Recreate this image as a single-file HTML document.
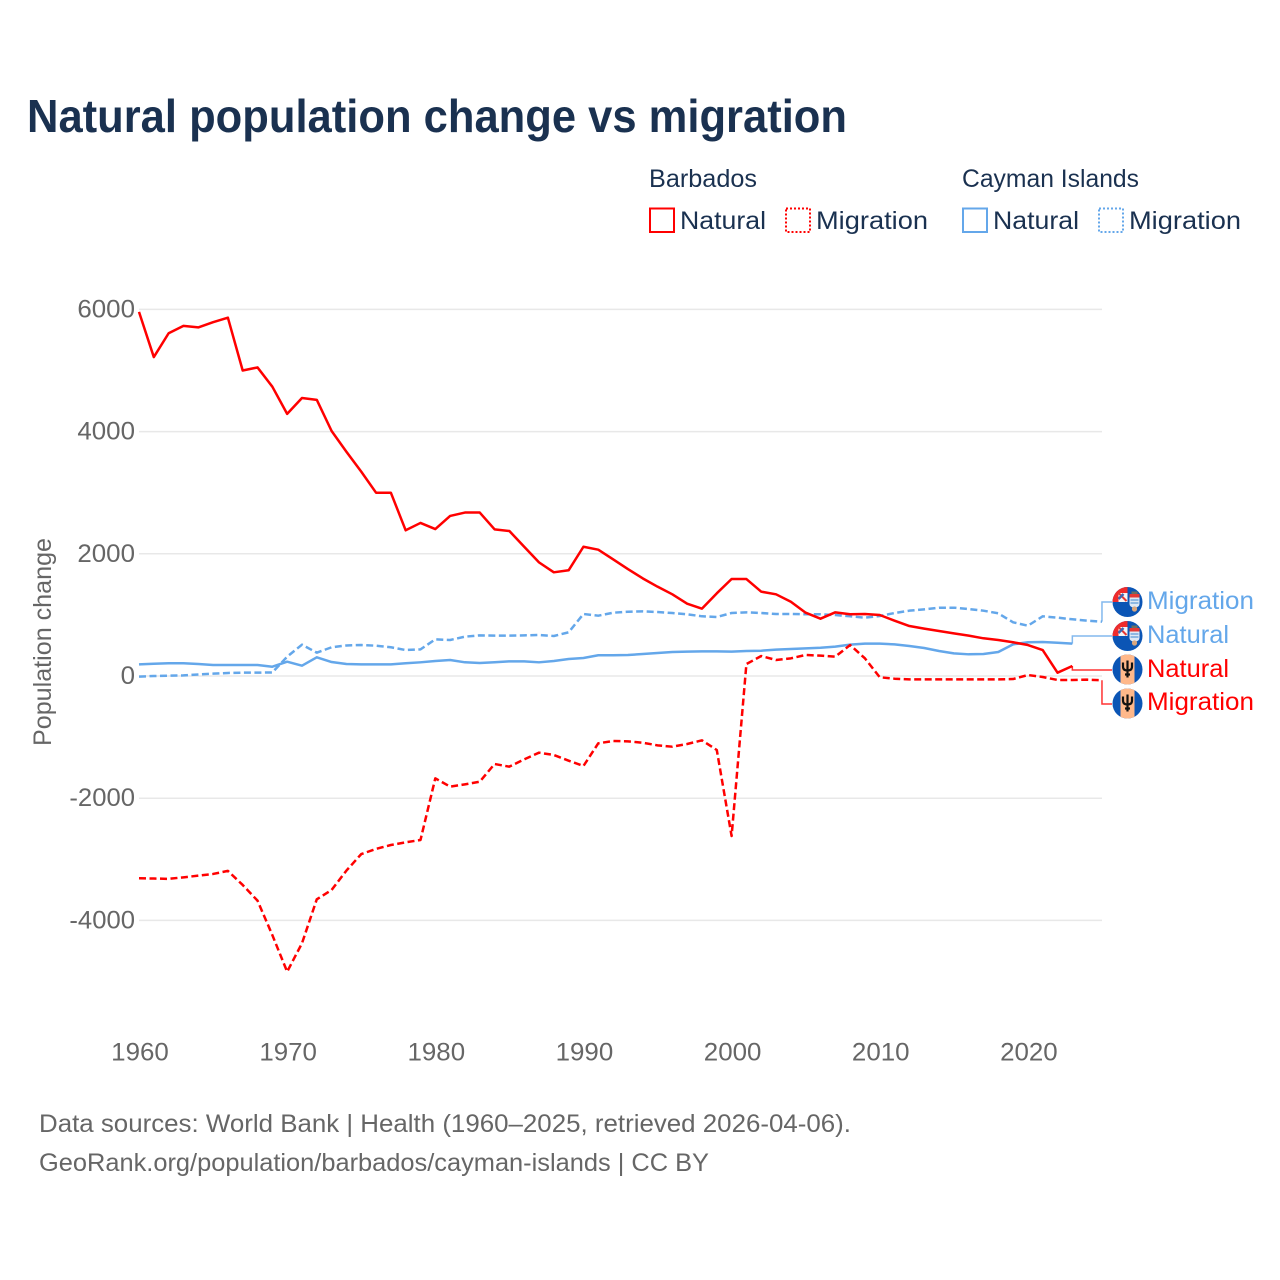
<!DOCTYPE html>
<html lang="en">
<head>
<meta charset="utf-8">
<title>Natural population change vs migration</title>
<style>
html,body{margin:0;padding:0;background:#fff;width:1280px;height:1280px;overflow:hidden}
svg{display:block}
text{font-family:"Liberation Sans",sans-serif}
</style>
</head>
<body>
<svg id="chart" xmlns="http://www.w3.org/2000/svg" width="1280" height="1280" viewBox="0 0 1280 1280">
  <defs>
    <clipPath id="flag-clip"><circle cx="0" cy="0" r="15"/></clipPath>
    <g id="flag-cayman" clip-path="url(#flag-clip)">
      <rect x="-15" y="-15" width="30" height="30" fill="#0b55b5"/>
      <rect x="-15" y="-15" width="15" height="15" fill="#ef2b2b"/>
      <rect x="-9" y="-9" width="9" height="9" fill="#f6f6f6"/>
      <path d="M-9,-9 L-1,-1" stroke="#e53935" stroke-width="2"/>
      <path d="M-9,-3 L-4,-8" stroke="#3f66b0" stroke-width="2.5"/>
      <path d="M2,-5 h10 v7 q0,3 -5,4 q-5,-1 -5,-4 z" fill="#dfe9f5"/>
      <rect x="2" y="-8" width="10" height="3.5" fill="#e53935"/>
      <path d="M3,-2 h8 M3,1 h8" stroke="#5e9ad8" stroke-width="1.3"/>
      <rect x="4" y="-10.500" width="6" height="2.500" fill="#6b6f60"/>
      <circle cx="7" cy="7" r="2.600" fill="#d9a77f"/>
    </g>
    <g id="flag-barbados" clip-path="url(#flag-clip)">
      <rect x="-15" y="-15" width="30" height="30" fill="#0b55b5"/>
      <rect x="-7" y="-15" width="14" height="30" fill="#ffb88a"/>
      <path d="M-4.500,-7 v4 q0,4 4.500,4 q4.500,0 4.500,-4 v-4 M0,-9 V8 M-2.500,5 H2.500" fill="none" stroke="#111" stroke-width="2.200"/>
    </g>
  </defs>

  <text x="27" y="132" font-size="46" font-weight="700" fill="#1a3150" textLength="820" lengthAdjust="spacingAndGlyphs">Natural population change vs migration</text>

  <g font-size="25" fill="#1a3150">
    <text x="649" y="187" textLength="108" lengthAdjust="spacingAndGlyphs">Barbados</text>
    <text x="962" y="187" textLength="177" lengthAdjust="spacingAndGlyphs">Cayman Islands</text>
    <rect x="650" y="208.500" width="24" height="23.500" fill="none" stroke="#ff0000" stroke-width="2"/>
    <text x="680" y="229" textLength="86" lengthAdjust="spacingAndGlyphs">Natural</text>
    <rect x="786" y="208.500" width="24" height="23.500" fill="none" stroke="#ff0000" stroke-width="2" stroke-dasharray="2 2"/>
    <text x="816" y="229" textLength="112" lengthAdjust="spacingAndGlyphs">Migration</text>
    <rect x="963" y="208.500" width="24" height="23.500" fill="none" stroke="#64a7ea" stroke-width="2"/>
    <text x="993" y="229" textLength="86" lengthAdjust="spacingAndGlyphs">Natural</text>
    <rect x="1099" y="208.500" width="24" height="23.500" fill="none" stroke="#64a7ea" stroke-width="2" stroke-dasharray="2 2"/>
    <text x="1129" y="229" textLength="112" lengthAdjust="spacingAndGlyphs">Migration</text>
  </g>

  <text transform="translate(51,642) rotate(-90)" text-anchor="middle" font-size="25" fill="#666666" textLength="208" lengthAdjust="spacingAndGlyphs">Population change</text>

  <g id="grid"></g>
  <g id="y-ticks"></g>
  <g id="x-ticks"></g>
  <g id="series"></g>

  <g>
    <use href="#flag-cayman" x="1127.500" y="602"/>
    <use href="#flag-cayman" x="1127.500" y="636"/>
    <use href="#flag-barbados" x="1127.500" y="669.500"/>
    <use href="#flag-barbados" x="1127.500" y="703.500"/>
    <text x="1147" y="609" font-size="25" fill="#64a7ea" textLength="107" lengthAdjust="spacingAndGlyphs">Migration</text>
    <text x="1147" y="643" font-size="25" fill="#64a7ea" textLength="82" lengthAdjust="spacingAndGlyphs">Natural</text>
    <text x="1147" y="677" font-size="25" fill="#ff0000" textLength="82" lengthAdjust="spacingAndGlyphs">Natural</text>
    <text x="1147" y="710" font-size="25" fill="#ff0000" textLength="107" lengthAdjust="spacingAndGlyphs">Migration</text>
  </g>

  <g font-size="25" fill="#666666">
    <text x="39" y="1132" textLength="812" lengthAdjust="spacingAndGlyphs">Data sources: World Bank | Health (1960–2025, retrieved 2026-04-06).</text>
    <text x="39" y="1171" textLength="670" lengthAdjust="spacingAndGlyphs">GeoRank.org/population/barbados/cayman-islands | CC BY</text>
  </g>
</svg>
<script>
const years = [1960,1961,1962,1963,1964,1965,1966,1967,1968,1969,
  1970,1971,1972,1973,1974,1975,1976,1977,1978,1979,
  1980,1981,1982,1983,1984,1985,1986,1987,1988,1989,
  1990,1991,1992,1993,1994,1995,1996,1997,1998,1999,
  2000,2001,2002,2003,2004,2005,2006,2007,2008,2009,
  2010,2011,2012,2013,2014,2015,2016,2017,2018,2019,
  2020,2021,2022,2023,2024,2025];
const yTickValues = [6000,4000,2000,0,-2000,-4000];
const xTickValues = [1960,1970,1980,1990,2000,2010,2020];
const barbadosNatural = [5960,5220,5610,5730,5705,5790,5865,5000,5050,4735,
  4290,4550,4520,4010,3670,3345,3000,3000,2385,2505,
  2405,2620,2675,2675,2400,2373,2115,1860,1697,1730,
  2115,2067,1910,1750,1598,1462,1337,1184,1102,1353,
  1587,1587,1380,1337,1216,1036,938,1042,1010,1015,
  998,905,818,775,736,698,660,617,589,552,
  507,425,54,164];
const barbadosMigration = [-3310,-3315,-3320,-3295,-3268,-3240,-3190,-3420,-3677,-4240,
  -4840,-4375,-3655,-3502,-3185,-2915,-2830,-2766,-2722,-2684,
  -1675,-1811,-1773,-1730,-1440,-1484,-1364,-1255,-1293,-1386,
  -1473,-1102,-1064,-1069,-1092,-1135,-1157,-1113,-1053,-1211,
  -2619,196,327,262,289,344,333,316,507,289,
  -21,-44,-55,-55,-55,-55,-55,-55,-55,-50,
  16,-16,-65,-65,-60,-70];
const caymanNatural = [191,201,208,208,196,180,180,180,180,152,
  234,169,306,229,196,191,191,191,208,224,
  245,262,224,213,224,240,240,224,245,278,
  295,339,339,344,360,376,393,398,404,404,
  398,409,414,431,442,453,463,480,513,529,
  529,518,491,458,409,371,355,360,393,518,
  552,556,545,529];
const caymanMigration = [-10,0,5,10,25,38,50,55,55,58,
  316,513,382,470,500,507,496,470,425,436,
  600,589,644,665,660,660,665,671,655,715,
  1015,987,1036,1052,1058,1047,1031,1010,977,965,
  1031,1042,1031,1015,1015,1010,1010,998,977,955,
  982,1031,1069,1091,1118,1118,1096,1069,1026,879,
  823,977,955,928,905,889];

const svgNS = 'http://www.w3.org/2000/svg';
const RED = '#ff0000';
const BLUE = '#64a7ea';
function xScale(year){ return 139 + (year - 1960) * 14.815; }
function yScale(value){ return 676 - value * 0.0611; }
function tickWidth(label){
  const s = String(label);
  return s.replace('-', '').length * 14.4 + (s[0] === '-' ? 8 : 0);
}

const grid = document.getElementById('grid');
const yTicksGroup = document.getElementById('y-ticks');
yTickValues.forEach(function(v){
  const gl = document.createElementNS(svgNS, 'line');
  
  
  gl.setAttribute('x1', 139);
  gl.setAttribute('x2', 1102);
  gl.setAttribute('y1', yScale(v));
  gl.setAttribute('y2', yScale(v));
  gl.setAttribute('stroke', '#e8e8e8');
  gl.setAttribute('stroke-width', '1.5');
  grid.appendChild(gl);

  const t = document.createElementNS(svgNS, 'text');
  
  
  t.setAttribute('x', 135);
  t.setAttribute('y', yScale(v) + 8);
  t.setAttribute('text-anchor', 'end');
  t.setAttribute('font-size', '25');
  t.setAttribute('fill', '#666666');
  t.setAttribute('textLength', tickWidth(v));
  t.setAttribute('lengthAdjust', 'spacingAndGlyphs');
  t.textContent = String(v);
  yTicksGroup.appendChild(t);
});

const xTicksGroup = document.getElementById('x-ticks');
xTickValues.forEach(function(yr){
  const t = document.createElementNS(svgNS, 'text');
  
  
  t.setAttribute('x', xScale(yr) + 1);
  t.setAttribute('y', 1060.500);
  t.setAttribute('text-anchor', 'middle');
  t.setAttribute('font-size', '25');
  t.setAttribute('fill', '#666666');
  t.setAttribute('textLength', tickWidth(yr));
  t.setAttribute('lengthAdjust', 'spacingAndGlyphs');
  t.textContent = String(yr);
  xTicksGroup.appendChild(t);
});

const seriesGroup = document.getElementById('series');
function drawSeries(values, color, dashed, labelY, lineName, connectorName){
  const pts = values.map(function(v, i){ return xScale(years[i]).toFixed(2) + ',' + yScale(v).toFixed(2); });
  const last = values.length - 1;
  const ex = xScale(years[last]);
  const ey = yScale(values[last]);
  const conn = document.createElementNS(svgNS, 'polyline');
  
  
  conn.setAttribute('points', ex + ',' + ey + ' ' + ex + ',' + labelY + ' 1112,' + labelY);
  conn.setAttribute('fill', 'none');
  conn.setAttribute('stroke', color);
  conn.setAttribute('stroke-opacity', '0.8');
  conn.setAttribute('stroke-width', '1.5');
  seriesGroup.appendChild(conn);

  const line = document.createElementNS(svgNS, 'polyline');
  
  
  line.setAttribute('points', pts.join(' '));
  line.setAttribute('fill', 'none');
  line.setAttribute('stroke', color);
  line.setAttribute('stroke-width', '2.5');
  line.setAttribute('stroke-linejoin', 'round');
  if (dashed) { line.setAttribute('stroke-dasharray', '7 3.5'); }
  seriesGroup.appendChild(line);
}
drawSeries(caymanMigration, BLUE, true, 602, 'line-cayman-migration', 'connector-cayman-migration');
drawSeries(caymanNatural, BLUE, false, 636, 'line-cayman-natural', 'connector-cayman-natural');
drawSeries(barbadosMigration, RED, true, 704, 'line-barbados-migration', 'connector-barbados-migration');
drawSeries(barbadosNatural, RED, false, 670, 'line-barbados-natural', 'connector-barbados-natural');
</script>
</body>
</html>
